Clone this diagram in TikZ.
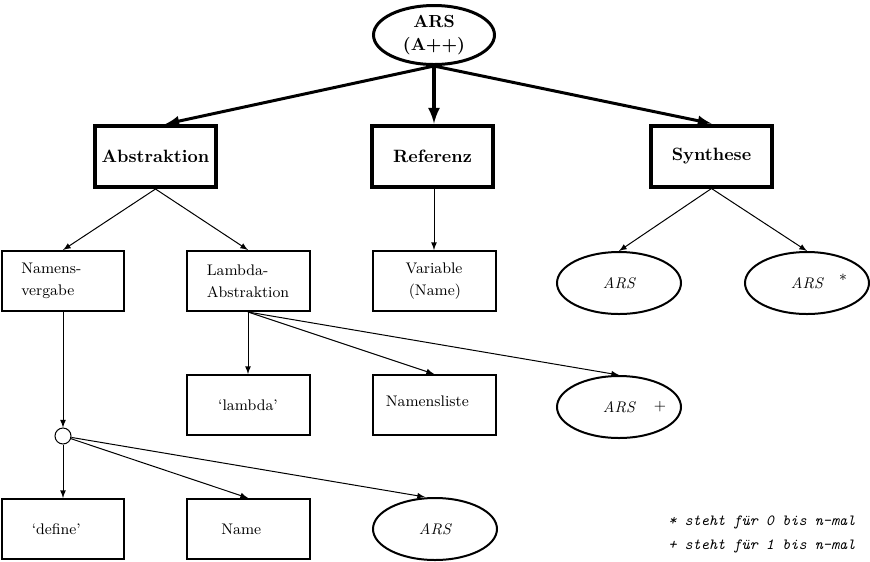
\documentclass[tikz,border=0pt]{standalone}
\usepackage{amsmath, amssymb}
\usepackage{tikz}
\usetikzlibrary{
  % ellipse nodes
  shapes.geometric,%
  arrows,
  positioning,
  calc
}
\tikzset{>=latex}
\tikzset{font=\fontsize{9.2}{13}\selectfont}
\tikzset{
  rootell/.style={draw, ellipse, line width=1.8pt, minimum width=72.6pt,
    minimum height=35.4pt, inner sep=0pt, align=center,
    font=\fontsize{10.5}{13.8}\selectfont\bfseries},
  mainbox/.style={draw, line width=2.4pt, minimum width=72.6pt,
    minimum height=36.6pt, inner sep=0pt,
    font=\fontsize{10.7}{13}\selectfont\bfseries},
  subbox/.style={draw, line width=1.2pt, minimum width=73.8pt,
    minimum height=36pt, inner sep=0pt, align=left},
  subell/.style={draw, ellipse, line width=1.2pt, minimum width=74.4pt,
    minimum height=37.2pt, inner sep=0pt,
    font=\fontsize{9.2}{13}\selectfont\itshape},
  joint/.style={draw, circle, line width=0.6pt, minimum size=9.6pt,
    inner sep=0pt},
  bigarrow/.style={->, line width=1.8pt},
  smallarrow/.style={->, line width=0.6pt},
  mult/.style={inner sep=0pt},
  legend/.style={anchor=base west, inner sep=0pt,
    font=\fontsize{9.3}{12}\selectfont\ttfamily\itshape}
}

\begin{document}
\begin{tikzpicture}[x=0.6pt, y=-0.6pt]
  \useasboundingbox (0,0) rectangle (870,561); %
  % root and first level
  \node[rootell] (ars) at (434,35) {ARS\\(A++)}; %
  \node[mainbox] (abs) at (155.5,156.5) {Abstraktion}; %
  \node[mainbox] (ref) at (432.5,156) {Referenz}; %
  \node[mainbox] (syn) at (711.5,156) {Synthese}; %
  \draw[bigarrow] (ars.south) -- ([xshift=6]abs.north); %
  \draw[bigarrow, line width=2.2pt] (ars.south) -- (ref.north -| ars.south); %
  \draw[bigarrow] (ars.south) -- (syn.north); %
  % second level
  \node[subbox] (nam) at (63,281) {Namens-\hspace*{14pt}\\vergabe\hspace*{14pt}}; %
  \node[subbox] (lam) at (248,281) {Lambda-\\Abstraktion}; %
  \node[subbox] (var) at (434,281) {Variable\\\hspace*{2pt}(Name)}; %
  \node[subell] (synA) at (619,283) {ARS\hspace{8pt}}; %
  \node[subell] (synB) at (807,283) {ARS\hspace{22pt}}; %
  \node[mult] (star) at (843,280) {*}; %
  \draw[smallarrow] (abs.south) -- (nam.north); %
  \draw[smallarrow] (abs.south) -- (lam.north); %
  \draw[smallarrow] (ref.south -| var.north) -- (var.north); %
  \draw[smallarrow] (syn.south) -- (synA.north); %
  \draw[smallarrow] (syn.south) -- (synB.north); %
  % lambda branch
  \node[subbox] (lbd) at (248,405) {`lambda'}; %
  \node[subbox, text depth=5pt] (nlist) at (434,405) {Namensliste\hspace*{8pt}}; %
  \node[subell] (arsP) at (619,407) {ARS\hspace{26pt}}; %
  \node[mult] (plus) at (660,407) {+}; %
  \draw[smallarrow] (lam.south) -- (lbd.north); %
  \draw[smallarrow] (lam.south) -- (nlist.north); %
  \draw[smallarrow] (lam.south) -- (arsP.north); %
  % define branch
  \node[joint] (circ) at (63,436) {}; %
  \node[subbox] (def) at (63,529) {`define'\hspace*{8pt}}; %
  \node[subbox] (name) at (248,529) {Name\hspace*{8pt}}; %
  \node[subell] (arsD) at (435,529) {ARS}; %
  \draw[smallarrow] (nam.south) -- (circ); %
  \draw[smallarrow] (circ) -- (def.north); %
  \draw[smallarrow] (circ) -- (name.north); %
  \draw[smallarrow] (circ) -- ([xshift=-6]arsD.north); %
  % legend
  \node[legend] (leg1) at (668,525) {* steht für 0 bis n-mal}; %
  \node[legend] (leg2) at (668,549) {+ steht für 1 bis n-mal}; %
\end{tikzpicture}
\end{document}
